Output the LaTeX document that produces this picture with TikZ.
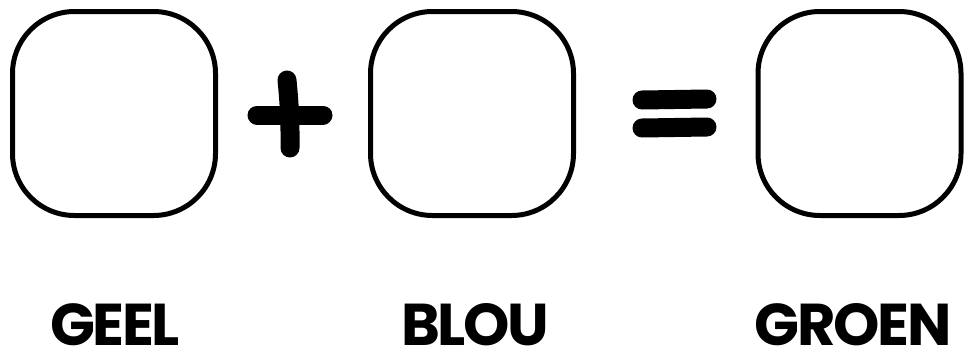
\documentclass[tikz,border=0pt]{standalone}
\usepackage{fontspec}
\setmainfont{Poppins}
\newfontfamily\labelfont[LetterSpace=-4]{Poppins}
\usetikzlibrary{positioning}

\begin{document}
\begin{tikzpicture}[x=1pt, y=-1pt, colorbox/.style={draw, line width=5pt, rounded corners=62pt, minimum width=203pt, minimum height=204pt, inner sep=0pt}, sign/.style={line width=19pt, line cap=round}, colorname/.style={font=\labelfont\fontsize{59}{60}\selectfont\bfseries, inner sep=0pt, text depth=0pt, anchor=base}]

\useasboundingbox (0,0) rectangle (966,354);

\node[colorbox] (geel) at (114,113.5) {};
\node[colorbox] (blou) at (472,113.5) {};
\node[colorbox] (groen) at (859.5,113.5) {};

% plus
\draw[sign] (257,115) -- (323,115);
\draw[sign] (287,80) to[bend left=3] (290,148);
% equals
\draw[sign] (642,100) -- (707,99);
\draw[sign] (642,128) -- (707,127);

\node[colorname] (geeltxt) at (115,345) {GEEL};
\node[colorname] (bloutxt) at (475,345) {BLOU};
\node[colorname] (groentxt) at (853,345) {GROEN};

\end{tikzpicture}
\end{document}
